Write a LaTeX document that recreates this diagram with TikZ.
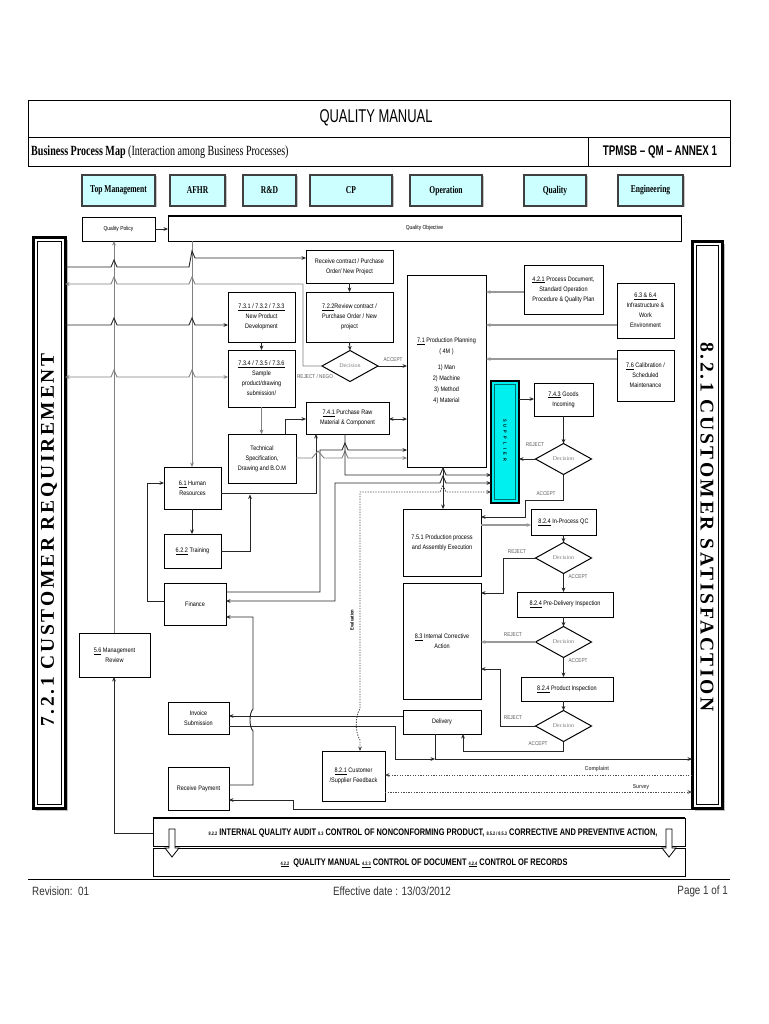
\documentclass[tikz,border=0pt]{standalone}
\usepackage{fontspec}
\setmainfont{Liberation Serif}
\newfontfamily\bxfont[FakeStretch=0.85]{Liberation Sans}
\newfontfamily\hdfont[FakeStretch=0.7]{Liberation Sans}
\newfontfamily\barfont[FakeStretch=0.78]{Liberation Sans}
\newfontfamily\ftfont[FakeStretch=0.82]{Liberation Sans}
\newfontfamily\nserif[FakeStretch=0.72]{Liberation Serif}
\newfontfamily\spserif[LetterSpace=14]{Liberation Serif}
\usetikzlibrary{arrows.meta,shapes.geometric,shadows}
\definecolor{deptc}{RGB}{204,255,255}
\definecolor{supc}{RGB}{0,240,240}
\definecolor{supd}{RGB}{0,110,110}
\tikzset{
  pbox/.style={draw=black,line width=1pt,align=center,inner sep=0.5pt,outer sep=0pt,
    font=\bxfont\fontsize{6.5}{10}\selectfont},
  conn/.style={line width=0.9pt,draw=black!85},
  gline/.style={line width=0.9pt,draw=black!50},
  gconn/.style={line width=1.4pt,draw=black!40},
  dotc/.style={line width=0.9pt,draw=black!70,dash pattern=on 1.3pt off 1.3pt},
  dec/.style={draw,shape=diamond,line width=1pt,minimum width=56pt,minimum height=31pt,
    inner sep=0pt,outer sep=0pt,font=\fontsize{6}{7}\selectfont,text=black!50},
  lab/.style={font=\bxfont\fontsize{5.5}{6}\selectfont,text=black!65,inner sep=0.3pt},
  dept/.style={draw=black!75,line width=2pt,fill=deptc,minimum height=31pt,inner sep=0pt,outer sep=0pt,
    font=\nserif\bfseries\fontsize{10.5}{11}\selectfont,
    drop shadow={shadow xshift=1.5pt,shadow yshift=-1.5pt,fill=black!45}},
  jmp/.style 2 args={insert path={-- ({#1-3},#2) -- (#1,{#2-7}) -- ({#1+3},#2)}},
  jmpl/.style 2 args={insert path={-- ({#1+3},#2) -- (#1,{#2-7}) -- ({#1-3},#2)}}
}
\newcommand\mybox[7][]{\node[pbox,#1,minimum width={(#5-#3)*1pt},minimum height={(#6-#4)*1pt}] (#2) at ({(#3+#5)/2},{(#4+#6)/2}) {#7};}
\begin{document}
\begin{tikzpicture}[x=1pt,y=-1pt,>={Stealth[length=4.5pt,width=3.8pt]}]
\useasboundingbox[fill=white] (0,0) rectangle (768,1024);
% ---------- header
\draw[line width=1pt] (28,101) rectangle (730,167);
\draw[line width=1pt] (28,138) -- (730,138) (588,138) -- (588,167);
\node[font=\hdfont\fontsize{18.5}{19}\selectfont,inner sep=0] (title) at (376,118) {QUALITY MANUAL};
\node[anchor=west,font=\nserif\fontsize{14}{15}\selectfont,inner sep=0] (bpm) at (31,152) {\textbf{Business Process Map} (Interaction among Business Processes)};
\node[font=\hdfont\bfseries\fontsize{14}{15}\selectfont,inner sep=0] (annex) at (660,152) {TPMSB – QM – ANNEX 1};
% ---------- departments
\node[dept,minimum width=73pt] (tm) at (118.5,190.5) {Top Management};
\node[dept,minimum width=55pt] (afhr) at (197.5,190.5) {AFHR};
\node[dept,minimum width=53pt] (rd) at (269.5,190.5) {R\&D};
\node[dept,minimum width=82pt] (cpd) at (351,190.5) {CP};
\node[dept,minimum width=72pt] (opd) at (446,190.5) {Operation};
\node[dept,minimum width=62pt] (qud) at (555,190.5) {Quality};
\node[dept,minimum width=65pt] (eng) at (650.5,190.5) {Engineering};
% ---------- policy / objective
\mybox[font=\bxfont\fontsize{5.8}{7}\selectfont]{qp}{82}{218}{155}{241}{Quality Policy}
\mybox[font=\bxfont\fontsize{5.8}{7}\selectfont]{qo}{168}{216}{681}{241}{Quality Objective}
\draw[line width=2.6pt] (qo.north west) -- (qo.north east);
% ---------- side bars
\node[draw=black,line width=3pt,fill=white,minimum width=32pt,minimum height=571pt,inner sep=0,outer sep=0,
  drop shadow={shadow xshift=2.5pt,shadow yshift=-2.5pt,fill=black!50}] (cr) at (49,522.5) {};
\draw[line width=0.8pt] ([shift={(4,4)}]cr.north west) rectangle ([shift={(-4,-4)}]cr.south east);
\node[rotate=90,font=\spserif\bfseries\fontsize{19.5}{20}\selectfont,inner sep=0] (crt) at (49,540) {7.2.1 CUSTOMER REQUIREMENT};
\node[draw=black,line width=3pt,fill=white,minimum width=30pt,minimum height=567pt,inner sep=0,outer sep=0,
  drop shadow={shadow xshift=2.5pt,shadow yshift=-2.5pt,fill=black!50}] (cs) at (707,524.5) {};
\draw[line width=0.8pt] ([shift={(4,4)}]cs.north west) rectangle ([shift={(-4,-4)}]cs.south east);
\node[rotate=-90,font=\spserif\bfseries\fontsize{19.5}{20}\selectfont,inner sep=0] (cst) at (707,527) {8.2.1 CUSTOMER SATISFACTION};
% ---------- process boxes
\mybox{rc}{306}{250}{393}{283}{Receive contract / Purchase\\Order/ New Project}
\mybox{rv}{306}{292}{393}{342}{\underline{7.2.2}Review contract /\\Purchase Order / New\\project}
\node[dec] (d1) at (350,366) {Decision};
\mybox{npd}{228}{292}{295}{342}{\underline{7.3.1 / 7.3.2 / 7.3.3}\\New Product\\Development}
\mybox{smp}{228}{350}{295}{407}{\underline{7.3.4 / 7.3.5 / 7.3.6}\\Sample\\product/drawing\\submission/}
\mybox{pr}{306}{402}{389}{434}{\underline{7.4.1} Purchase Raw\\Material \& Component}
\mybox{ts}{228}{434}{296}{483}{Technical\\Specification,\\Drawing and B.O.M}
\mybox[font=\bxfont\fontsize{6.5}{11}\selectfont]{pp}{407}{275}{486}{467}{\underline{7.1} Production Planning\\( 4M )\\[5pt]1) Man\\2) Machine\\3) Method\\4) Material}
\mybox{pd}{524}{265}{603}{314}{\underline{4.2.1} Process Document,\\Standard Operation\\Procedure \& Quality Plan}
\mybox{inf}{617}{283}{674}{338}{\underline{6.3 \& 6.4}\\Infrastructure \&\\Work\\Environment}
\mybox{cal}{617}{350}{674}{401}{\underline{7.6} Calibration /\\Scheduled\\Maintenance}
\node[draw=black,line width=2.6pt,fill=supc,minimum width=28pt,minimum height=122pt,inner sep=0,outer sep=0] (sup) at (505,442) {};
\draw[supd,line width=0.8pt] ([shift={(3.5,3.5)}]sup.north west) rectangle ([shift={(-3.5,-3.5)}]sup.south east);
\node[rotate=-90,font=\bxfont\bfseries\fontsize{4.6}{5}\selectfont,inner sep=0] (supt) at (505,440) {S\hspace{3.2pt}U\hspace{3.2pt}P\hspace{3.2pt}P\hspace{3.2pt}L\hspace{3.2pt}I\hspace{3.2pt}E\hspace{3.2pt}R};
\mybox{gi}{534}{383}{593}{416}{\underline{7.4.3} Goods\\Incoming}
\node[dec] (d2) at (563.5,459) {Decision};
\mybox{ppe}{403}{509}{481}{576}{7.5.1 Production process\\and Assembly Execution}
\mybox{ipqc}{531}{509}{596}{535}{\underline{8.2.4} In-Process QC}
\node[dec] (d3) at (563.5,558) {Decision};
\mybox{ca}{403}{583}{481}{699}{\underline{8.3} Internal Corrective\\Action}
\mybox{pdi}{517}{592}{613}{617}{\underline{8.2.4} Pre-Delivery Inspection}
\node[dec] (d4) at (563.5,642) {Decision};
\mybox{pi}{521}{677}{613}{701}{\underline{8.2.4} Product Inspection}
\node[dec] (d5) at (563.5,726) {Decision};
\mybox{dl}{403}{710}{481}{734}{Delivery}
\mybox{fb}{322}{751}{385}{801}{\underline{8.2.1} Customer\\/Supplier Feedback}
\mybox{inv}{168}{702}{229}{734}{Invoice\\Submission}
\mybox{rp}{168}{767}{229}{810}{Receive Payment}
\mybox{fin}{164}{583}{226}{625}{Finance}
\mybox{hr}{164}{467}{221}{509}{\underline{6.1} Human\\Resources}
\mybox{trn}{164}{534}{221}{568}{\underline{6.2.2} Training}
\mybox{mr}{79}{633}{150}{677}{\underline{5.6} Management\\Review}
% ---------- bottom bars
\node[draw,line width=1pt,minimum width=532pt,minimum height=28pt,inner sep=0,outer sep=0] (b1) at (419,832) {};
\draw[line width=2.6pt] (b1.north west) -- (b1.north east);
\node[draw,line width=1pt,minimum width=532pt,minimum height=28pt,inner sep=0,outer sep=0] (b2) at (419,862) {};
\node[font=\barfont\bfseries\fontsize{9.5}{10}\selectfont,inner sep=0] (b1t) at (433,833) {{\fontsize{5}{5}\selectfont 8.2.2} INTERNAL QUALITY AUDIT {\fontsize{5}{5}\selectfont 8.3} CONTROL OF NONCONFORMING PRODUCT, {\fontsize{5}{5}\selectfont 8.5.2 / 8.5.3} CORRECTIVE AND PREVENTIVE ACTION,};
\node[font=\barfont\bfseries\fontsize{9.5}{10}\selectfont,inner sep=0] (b2t) at (424,863) {\underline{\fontsize{5}{5}\selectfont 4.2.2}\ \ QUALITY MANUAL \underline{\fontsize{5}{5}\selectfont 4.2.3} CONTROL OF DOCUMENT \underline{\fontsize{5}{5}\selectfont 4.2.4} CONTROL OF RECORDS};
\foreach \x in {172,669} \draw[fill=white,line width=0.8pt] (\x-3,829) -- (\x+3,829) -- (\x+3,848) -- (\x+7,848) -- (\x,857) -- (\x-7,848) -- (\x-3,848) -- cycle;
% ---------- footer
\draw[line width=1pt] (28,879) -- (730,879);
\node[anchor=west,font=\ftfont\fontsize{12}{13}\selectfont,text=black!80,inner sep=0] (rev) at (32,891) {Revision:\ \ 01};
\node[font=\ftfont\fontsize{12}{13}\selectfont,text=black!80,inner sep=0] (eff) at (392,891) {Effective date : 13/03/2012};
\node[anchor=east,font=\ftfont\fontsize{12}{13}\selectfont,text=black!80,inner sep=0] (pg) at (728,891) {Page 1 of 1};
% ---------- coordinates
\coordinate (tj) at (250,494.5);
\coordinate (dj) at (435,759);
% ---------- connectors: left part
\draw[conn,->] (qp.east |- 0,229) -- (qo.west |- 0,229);
\draw[gline,->] (mr.north -| 114,0) -- (qp.south -| 114,0);
\draw[conn,->] (b1.west |- 0,833) -- (114,833) -- (mr.south -| 114,0);
\draw[gline,->] (qo.south -| 192,0) -- (hr.north -| 192,0);
\draw[conn,->] (hr.south -| 192,0) -- (trn.north -| 192,0);
\draw[conn,->] (cr.east |- 0,267) [jmp={114}{267}] -- (189,267) -- (192,251) -- (195,258) -- (rc.west |- 0,258);
\draw[gline,->] (d1.west) -- (303,366) -- (303,284) [jmpl={192}{284}] [jmpl={114}{284}] -- (cr.east |- 0,284);
\draw[conn,->] (cr.east |- 0,325) [jmp={114}{325}] [jmp={192}{325}] -- (npd.west |- 0,325);
\draw[gline,<->] (cr.east |- 0,377) [jmp={114}{377}] [jmp={192}{377}] -- (smp.west |- 0,377);
\node[lab] (lrn) at (315,377) {REJECT / NEGO};
\draw[conn,->] (d1.east) -- (pp.west |- d1.east);
\node[lab] (la1) at (393,360) {ACCEPT};
\draw[conn,->] (rc.south) -- (rv.north);
\draw[conn,->] (rv.south) -- (d1.north);
\draw[conn,->] (npd.south) -- (smp.north);
\draw[gline,->] (smp.south) -- (ts.north -| smp.south);
\draw[conn,->] (ts.north -| 285,0) -- (285,419) -- (pr.west |- 0,419);
\draw[conn,<->] (pr.east |- 0,419) -- (pp.west |- 0,419);
\draw[conn,->] (hr.east |- 0,493) -- (316,493) -- (pr.south -| 316,0);
\draw[conn,->] (fin.east |- 0,592) -- (320,592) -- (320,450) [jmp={345}{450}] -- (pp.west |- 0,450);
\draw[gline,->] (ts.east |- 0,458) -- (312,458) -- (318,451) -- (324,458) [jmp={345}{458}] -- (pp.west |- 0,458);
\draw[conn,->] (pr.south -| 345,0) -- (345,475) [jmp={443}{475}] -- (sup.west |- 0,475);
\draw[conn,<->] (fin.east |- 0,601) -- (335,601) -- (335,483) [jmp={443}{483}] -- (sup.west |- 0,483);
\draw[dotc,<->] (fb.north -| 360,0) -- (360,740) .. controls (355,733) and (355,715) .. (360,709) -- (360,492) [jmp={443}{492}] -- (sup.west |- 0,492);
\node[rotate=90,font=\bxfont\bfseries\fontsize{4.8}{5}\selectfont,inner sep=0] (evl) at (352,620) {Evaluation};
\draw[conn,->] (pp.south -| 443,0) -- (ppe.north -| 443,0);
\draw[conn,->] (fin.west |- 0,601) -- (147,601) -- (147,483) -- (hr.west |- 0,483);
\draw[conn,->] (trn.east |- 0,551) -- (250,551) -- (tj);
% ---------- connectors: right part
\draw[gconn,->] (pd.west |- 0,292) -- (pp.east |- 0,292);
\draw[gconn,->] (inf.west |- 0,325) -- (pp.east |- 0,325);
\draw[gconn,->] (cal.west |- 0,359) -- (pp.east |- 0,359);
\draw[conn,->] (sup.east |- 0,399) -- (gi.west |- 0,399);
\draw[conn,->] (d2.north |- gi.south) -- (d2.north);
\draw[conn,->] (d2.west) -- (sup.east |- d2.west);
\node[lab] (lr2) at (535,445) {REJECT};
\draw[conn,->] (d2.south) -- (d2.south |- 0,500) -- (525,500) -- (525,517) -- (ppe.east |- 0,517);
\node[lab] (la2) at (546,494) {ACCEPT};
\draw[gconn,->] (ppe.east |- 0,525) -- (ipqc.west |- 0,525);
\draw[conn,->] (d3.north |- ipqc.south) -- (d3.north);
\draw[conn,->] (d3.west) -- (503,558) -- (503,593) -- (ca.east |- 0,593);
\node[lab] (lr3) at (517,552) {REJECT};
\draw[conn,->] (d3.south) -- (d3.south |- pdi.north);
\node[lab] (la3) at (578,577) {ACCEPT};
\draw[conn,->] (d4.north |- pdi.south) -- (d4.north);
\draw[gconn,->] (d4.west) -- (ca.east |- d4.west);
\node[lab] (lr4) at (513,635) {REJECT};
\draw[conn,->] (d4.south) -- (d4.south |- pi.north);
\node[lab] (la4) at (578,661) {ACCEPT};
\draw[conn,->] (d5.north |- pi.south) -- (d5.north);
\draw[conn,->] (d5.west) -- (500,726) -- (500,669) -- (ca.east |- 0,669);
\node[lab] (lr5) at (513,718) {REJECT};
\draw[conn,->] (d5.south) -- (d5.south |- 0,751) -- (463,751) -- (dl.south -| 463,0);
\node[lab] (la5) at (538,744) {ACCEPT};
% ---------- delivery / invoice / payment
\draw[conn,->] (dl.west |- 0,716) -- (inv.east |- 0,716);
\draw[conn,->] (inv.east |- 0,726) -- (395,726) -- (395,759) -- (dj);
\draw[conn,->] (dl.south -| 435,0) -- (dj) -- (cs.west |- 0,759);
\draw[dotc,->] (cs.west |- 0,775) -- (fb.east |- 0,775);
\node[lab,font=\bxfont\bfseries\fontsize{5.8}{6}\selectfont] (lcp) at (597,769) {Complaint};
\draw[dotc,->] (fb.east |- 0,792) -- (cs.west |- 0,792);
\node[lab,font=\bxfont\bfseries\fontsize{5.8}{6}\selectfont] (lsv) at (641,787) {Survey};
\draw[conn,->] (cs.west |- 0,809) -- (293,809) -- (293,800) -- (rp.east |- 0,800);
\draw[conn,->] (rp.east |- 0,785) -- (253,785) -- (253,731) .. controls (249,727) and (249,713) .. (253,709) -- (253,617) -- (fin.east |- 0,617);
\end{tikzpicture}
\end{document}
